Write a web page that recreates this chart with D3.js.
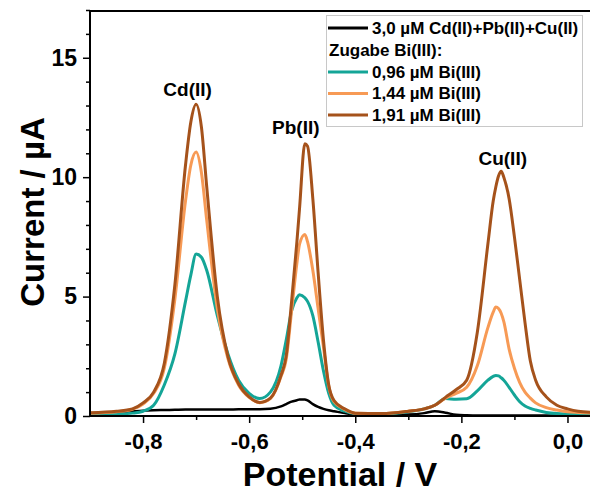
<!DOCTYPE html>
<html>
<head>
<meta charset="utf-8">
<script src="https://cdn.jsdelivr.net/npm/d3@7"></script>
<style>
  body { margin: 0; background: #fff; }
  svg { display: block; font-family: "Liberation Sans", Arial, sans-serif; font-weight: bold; }
</style>
</head>
<body>
<script>
// potential (V), shared by all curves
var potentials = [-0.90,-0.85,-0.82,-0.80,-0.78,-0.76,-0.74,-0.72,-0.71,-0.70,-0.69,-0.68,-0.66,-0.64,-0.62,-0.60,
  -0.58,-0.56,-0.54,-0.53,-0.52,-0.51,-0.505,-0.495,-0.49,-0.48,-0.47,-0.46,-0.45,-0.44,-0.42,-0.40,
  -0.35,-0.30,-0.27,-0.25,-0.23,-0.21,-0.19,-0.17,-0.15,-0.14,-0.135,-0.13,-0.125,-0.12,-0.11,-0.10,
  -0.09,-0.08,-0.07,-0.06,-0.04,-0.02,0.00,0.02,0.05];

// current (µA)
var blank = [0.08,0.15,0.20,0.22,0.24,0.25,0.26,0.27,0.27,0.27,0.27,0.27,0.27,0.27,0.28,0.28,
  0.28,0.30,0.40,0.50,0.60,0.66,0.69,0.69,0.65,0.50,0.38,0.30,0.24,0.20,0.12,0.06,
  0.04,0.06,0.12,0.20,0.14,0.05,0.03,0.02,0.02,0.02,0.02,0.02,0.02,0.02,0.02,0.02,
  0.02,0.02,0.02,0.02,0.02,0.02,0.02,0.02,0.02];
var bi096 = [0.05,0.08,0.12,0.20,0.45,1.30,2.60,4.80,5.90,6.78,6.65,6.10,4.20,2.60,1.50,0.95,
  0.73,1.00,2.10,3.20,4.40,4.95,5.08,4.95,4.80,4.20,3.10,1.90,0.95,0.45,0.20,0.10,
  0.08,0.18,0.30,0.45,0.73,0.70,0.72,1.05,1.50,1.66,1.70,1.68,1.60,1.50,1.20,0.88,
  0.60,0.42,0.32,0.25,0.15,0.10,0.08,0.07,0.06];
var bi144 = [0.12,0.18,0.28,0.50,0.95,2.00,4.90,9.00,10.50,11.05,10.20,8.20,4.50,2.40,1.30,0.78,
  0.56,0.73,1.65,2.40,4.40,6.40,7.20,7.60,7.30,6.10,4.50,2.90,1.25,0.60,0.28,0.12,
  0.10,0.20,0.30,0.45,0.75,0.95,1.20,2.10,3.70,4.35,4.56,4.50,4.30,3.95,2.80,2.00,
  1.40,1.00,0.75,0.55,0.35,0.25,0.18,0.15,0.12];
var bi191 = [0.14,0.20,0.30,0.55,1.00,2.20,5.50,10.50,12.30,13.05,12.10,9.60,5.00,2.50,1.35,0.80,
  0.57,0.75,1.70,2.55,4.80,7.30,8.70,11.40,11.30,9.10,6.00,3.20,1.30,0.65,0.30,0.12,
  0.10,0.20,0.30,0.45,0.78,1.10,1.50,3.50,7.20,9.00,9.60,10.05,10.25,10.00,9.10,7.50,
  5.70,3.90,2.30,1.50,0.80,0.45,0.30,0.20,0.15];

var seriesNames = ["3,0 µM Cd(II)+Pb(II)+Cu(II)", "0,96 µM Bi(III)", "1,44 µM Bi(III)", "1,91 µM Bi(III)"];
var seriesColors = ["#000000", "#14a597", "#f79a55", "#a5521b"];
var seriesValues = [blank, bi096, bi144, bi191];

// peak labels, placed in data units
var peakNames = ["Cd(II)", "Pb(II)", "Cu(II)"];
var peakLabelX = [-0.716, -0.512, -0.122];
var peakLabelY = [13.4, 11.8, 10.5];

var xTicks = [-0.8, -0.6, -0.4, -0.2, 0.0];
var xMinor = [-0.7, -0.5, -0.3, -0.1];
var yTicks = [0, 5, 10, 15];
var yMinor = [1, 2, 3, 4, 6, 7, 8, 9, 11, 12, 13, 14, 16, 17];

var W = 590, H = 498;
var svg = d3.select("body").append("svg").attr("width", W).attr("height", H);

var x = d3.scaleLinear().domain([-0.9, 0.05]).range([90, 594]);
var y = d3.scaleLinear().domain([0, 17]).range([416, 10]);

var fmt = function(d) {
  var s = Math.abs(d).toFixed(1).replace(".", ",");
  return (d < -1e-9 ? "-" : "") + s;
};

// minor ticks
svg.append("g").attr("transform", "translate(0,416)")
  .call(d3.axisBottom(x).tickValues(xMinor).tickSize(4).tickFormat(""))
  .call(g => g.select(".domain").remove())
  .selectAll("line").attr("stroke-width", 1.5);
svg.append("g").attr("transform", "translate(90,0)")
  .call(d3.axisLeft(y).tickValues(yMinor).tickSize(4).tickFormat(""))
  .call(g => g.select(".domain").remove())
  .selectAll("line").attr("stroke-width", 1.5);

// major ticks
var gx = svg.append("g").attr("transform", "translate(0,416)")
  .call(d3.axisBottom(x).tickValues(xTicks).tickSize(7).tickPadding(10).tickFormat(fmt));
gx.select(".domain").remove();
gx.selectAll("line").attr("stroke-width", 1.5);
gx.selectAll("text").attr("font-size", 22).attr("font-family", "Liberation Sans, Arial, sans-serif")
  .attr("font-weight", "bold").attr("fill", "#000");

var gy = svg.append("g").attr("transform", "translate(90,0)")
  .call(d3.axisLeft(y).tickValues(yTicks).tickSize(7).tickPadding(6));
gy.select(".domain").remove();
gy.selectAll("line").attr("stroke-width", 1.5);
gy.selectAll("text").attr("font-size", 23).attr("font-family", "Liberation Sans, Arial, sans-serif")
  .attr("font-weight", "bold").attr("fill", "#000");

// curves
var line = d3.line()
  .x(function(d) { return x(d[0]); })
  .y(function(d) { return y(d[1]); })
  .curve(d3.curveMonotoneX);

svg.append("defs").append("clipPath").attr("id", "plotclip")
  .append("rect").attr("x", 90).attr("y", 10).attr("width", 504).attr("height", 406);

seriesValues.forEach(function(vals, i) {
  svg.append("path")
    .datum(potentials.map(function(p, k) { return [p, vals[k]]; }))
    .attr("clip-path", "url(#plotclip)")
    .attr("fill", "none")
    .attr("stroke", seriesColors[i])
    .attr("stroke-width", i == 0 ? 2.5 : 3)
    .attr("stroke-linejoin", "round")
    .attr("d", line);
});

// frame
svg.append("line").attr("x1", 90).attr("x2", 90).attr("y1", 10).attr("y2", 417).attr("stroke", "#000").attr("stroke-width", 2);
svg.append("line").attr("x1", 89).attr("x2", 594).attr("y1", 416).attr("y2", 416).attr("stroke", "#000").attr("stroke-width", 2);
svg.append("line").attr("x1", 89).attr("x2", 594).attr("y1", 11).attr("y2", 11).attr("stroke", "#000").attr("stroke-width", 2);

// peak labels
peakNames.forEach(function(n, i) {
  svg.append("text")
    .attr("x", x(peakLabelX[i]))
    .attr("y", y(peakLabelY[i]))
    .attr("text-anchor", "middle")
    .attr("font-size", 19)
    .text(n);
});

// axis titles
svg.append("text").attr("x", 340).attr("y", 486).attr("text-anchor", "middle")
  .attr("font-size", 34).text("Potential / V");
svg.append("text").attr("transform", "translate(44,212) rotate(-90)").attr("text-anchor", "middle")
  .attr("font-size", 33).text("Current / µA");

// legend
var lg = svg.append("g");
lg.append("rect").attr("x", 326.5).attr("y", 15.5).attr("width", 256).attr("height", 111)
  .attr("fill", "#fff").attr("stroke", "#c8c8c8").attr("stroke-width", 1);
var rowY = [28, 50, 72, 93.5, 115];
var rows = [
  { name: seriesNames[0], color: seriesColors[0] },
  { name: "Zugabe Bi(III):", color: null },
  { name: seriesNames[1], color: seriesColors[1] },
  { name: seriesNames[2], color: seriesColors[2] },
  { name: seriesNames[3], color: seriesColors[3] }
];
rows.forEach(function(r, i) {
  if (r.color) {
    lg.append("line").attr("x1", 328).attr("x2", 368).attr("y1", rowY[i]).attr("y2", rowY[i])
      .attr("stroke", r.color).attr("stroke-width", 3);
  }
  lg.append("text").attr("x", r.color ? 372 : 329).attr("y", rowY[i] + 5.5)
    .attr("font-size", 17).text(r.name);
});
</script>
</body>
</html>
